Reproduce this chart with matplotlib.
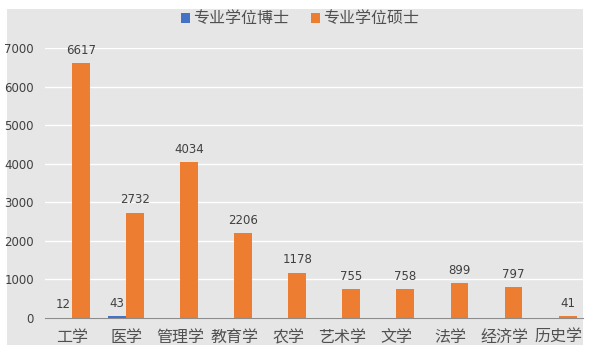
import numpy as np
import matplotlib.pyplot as plt
from matplotlib.patches import Rectangle

plt.rcParams['font.family'] = ['Noto Sans CJK SC', 'DejaVu Sans']

categories = ["工学", "医学", "管理学", "教育学", "农学", "艺术学", "文学", "法学", "经济学", "历史学"]
doctor = [12, 43, 0, 0, 0, 0, 0, 0, 0, 0]
master = [6617, 2732, 4034, 2206, 1178, 755, 758, 899, 797, 41]
series_names = ["专业学位博士", "专业学位硕士"]

blue = "#4472C4"
orange = "#ED7D31"
bg = "#e6e6e6"
text_col = "#404040"
cat_col = "#505050"

fig = plt.figure(figsize=(5.95, 3.58), dpi=100, facecolor="white")
# grey chart area
fig.patches.append(Rectangle((7 / 595, 13 / 358), 576 / 595, 336 / 358,
                             transform=fig.transFigure, facecolor=bg,
                             edgecolor="none", zorder=-10))

ax = fig.add_axes([45 / 595, 40 / 358, 538 / 595, 270 / 358])
ax.set_facecolor(bg)

x = np.arange(len(categories))
w = 0.33
b1 = ax.bar(x - w / 2, doctor, w, color=blue, label=series_names[0], zorder=3)
b2 = ax.bar(x + w / 2, master, w, color=orange, label=series_names[1], zorder=3)

for rect, v in zip(b1, doctor):
    if v > 0:
        ax.text(rect.get_x() + rect.get_width() / 2, v + 160, str(v),
                ha="center", va="bottom", fontsize=8.5, color=text_col,
                family="DejaVu Sans")
for rect, v in zip(b2, master):
    ax.text(rect.get_x() + rect.get_width() / 2, v + 160, str(v),
            ha="center", va="bottom", fontsize=8.5, color=text_col,
            family="DejaVu Sans", clip_on=False)

ax.set_xlim(-0.5, 9.45)
ax.set_ylim(0, 7000)
ax.set_yticks(range(0, 8000, 1000))
ax.set_yticklabels([str(v) for v in range(0, 8000, 1000)], family="DejaVu Sans")
ax.grid(axis="y", color="white", linewidth=1, zorder=0)
ax.set_xticks(x)
ax.set_xticklabels(categories, fontsize=11.5, color=cat_col, fontweight="light")
ax.tick_params(axis="y", length=0, labelsize=8.5, labelcolor=text_col, pad=8)
ax.tick_params(axis="x", length=0, pad=8)
for s in ["top", "right", "left"]:
    ax.spines[s].set_visible(False)
ax.spines["bottom"].set_color("#8c8c8c")
ax.spines["bottom"].set_zorder(4)

leg = fig.legend(loc="center", bbox_to_anchor=(300 / 595, 1 - 19 / 358), ncol=2,
                 frameon=False, fontsize=11.5, handlelength=0.55, handleheight=0.55,
                 handletextpad=0.2, columnspacing=1.4, labelcolor=cat_col,
                 prop={"size": 11.5, "weight": "light"})

fig.savefig("out.png", dpi=100, facecolor="white")
